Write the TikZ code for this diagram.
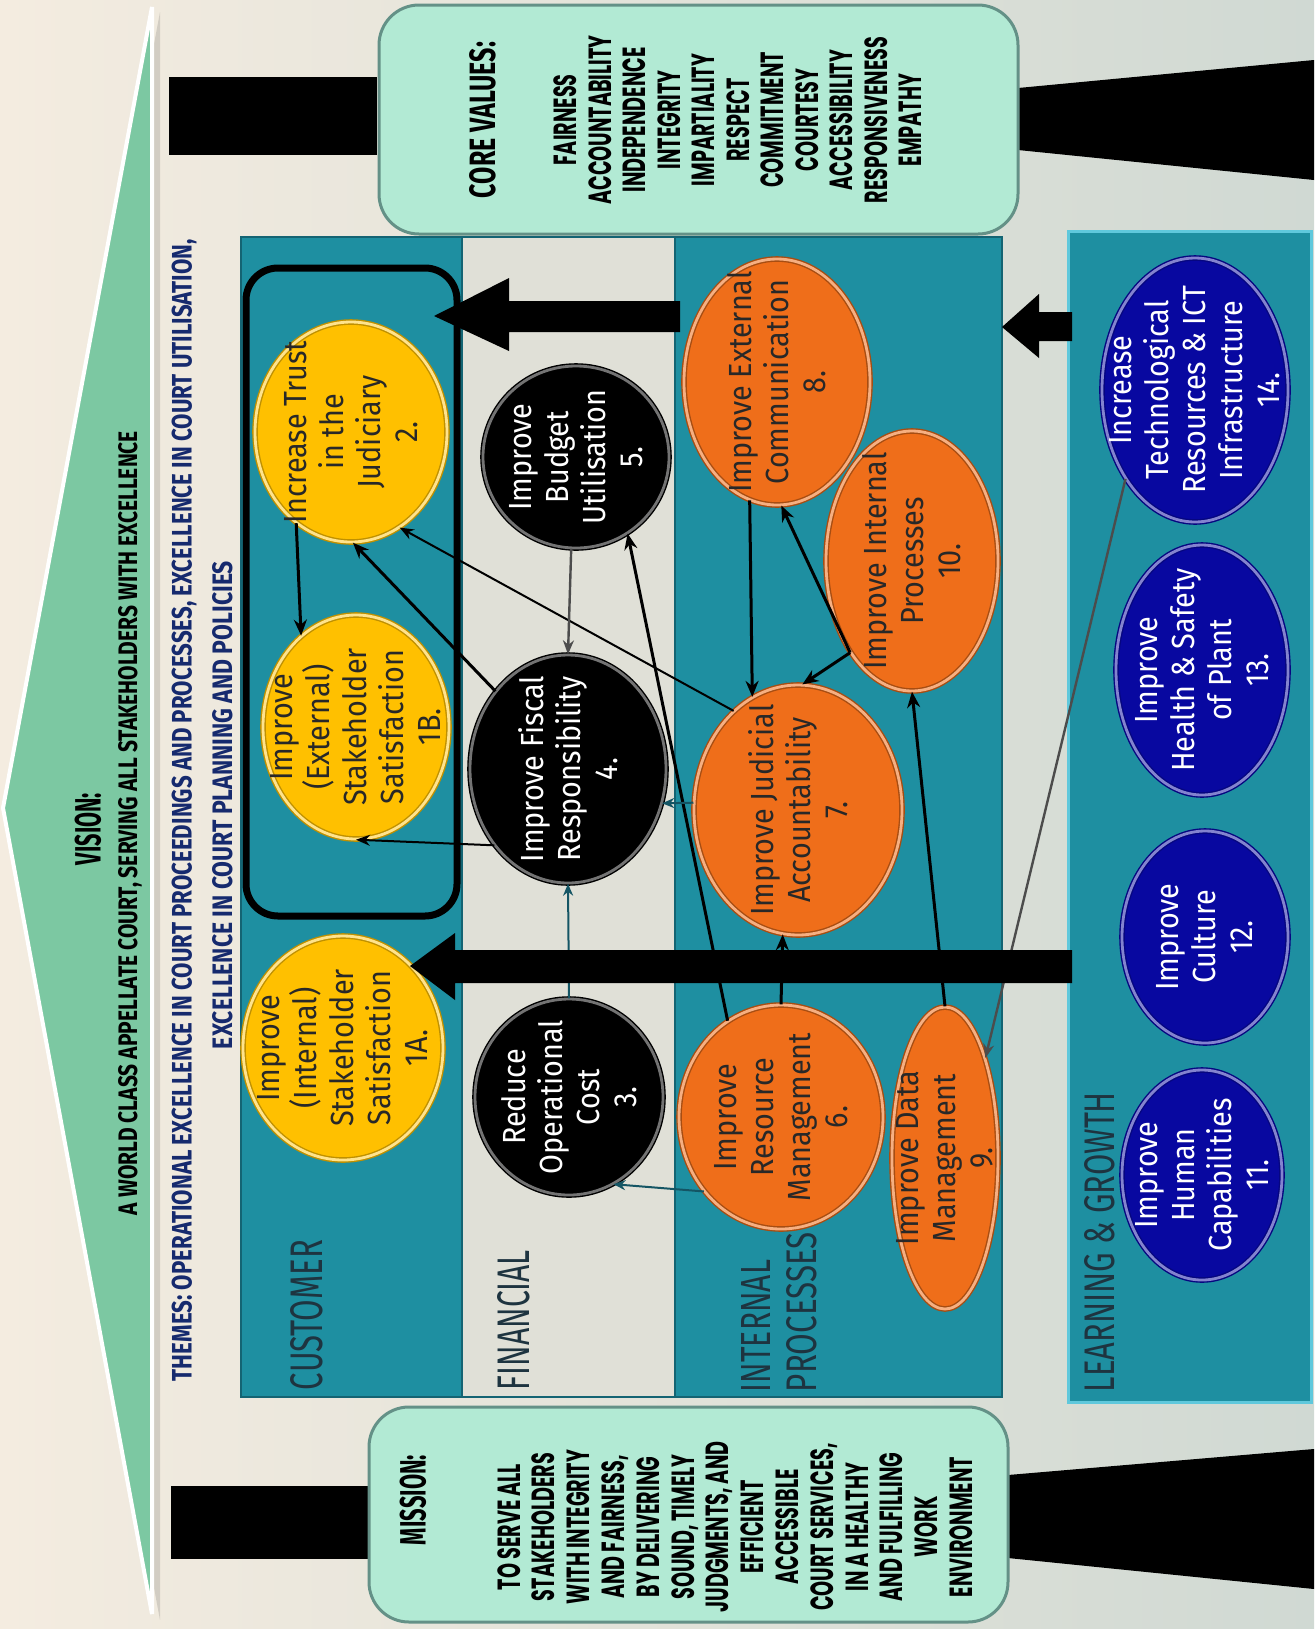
\documentclass[tikz,border=0pt]{standalone}
\usepackage{fontspec}
\setmainfont{Fira Sans}
\newfontfamily\nodefont[FakeStretch=0.9]{Fira Sans}
\newfontfamily\capfont[FakeStretch=0.6]{Poppins}
\usetikzlibrary{shapes.geometric,arrows.meta}
\definecolor{bgL}{RGB}{244,236,224}
\definecolor{bgR}{RGB}{208,217,211}
\definecolor{chev}{RGB}{124,200,162}
\definecolor{mint}{RGB}{178,234,212}
\definecolor{mintedge}{RGB}{100,145,135}
\definecolor{tealb}{RGB}{30,143,161}
\definecolor{tealedge}{RGB}{20,100,115}
\definecolor{fingray}{RGB}{224,224,215}
\definecolor{ygold}{RGB}{255,192,0}
\definecolor{orng}{RGB}{239,110,26}
\definecolor{navyb}{RGB}{8,8,160}
\definecolor{themec}{RGB}{22,42,110}
\definecolor{lblc}{RGB}{30,52,64}
\definecolor{linkteal}{RGB}{20,85,100}
\definecolor{lgedge}{RGB}{95,200,220}
\definecolor{txtdark}{RGB}{40,40,40}
\begin{document}
\begin{tikzpicture}[x=0.5pt,y=-0.5pt,
  obj/.style={ellipse, inner sep=0pt, line width=0.7pt, double distance=1.4pt},
  yobj/.style={obj, fill=ygold, draw=ygold!75!black, double=ygold!45!white},
  bobj/.style={obj, fill=black, draw=black, double=black!55},
  oobj/.style={obj, fill=orng, draw=orng!70!black, double=orng!55!white},
  nobj/.style={obj, fill=navyb, draw=navyb!80!black, double=navyb!50!white},
  otxt/.style={rotate=90, align=center, inner sep=0pt, font={\nodefont\fontsize{16}{18.5}\selectfont}},
  dtxt/.style={otxt, text=txtdark},
  wtxt/.style={otxt, text=white},
  lbl/.style={rotate=90, inner sep=0pt, text=lblc},
  hdr/.style={rotate=90, inner sep=0pt},
  lk/.style={-{Stealth[length=8pt,width=6.5pt]}, line width=1.5pt, black},
  lkthin/.style={-{Stealth[length=7pt,width=5.5pt]}, line width=1pt, black},
  lkteal/.style={-{Stealth[length=6pt,width=5pt]}, line width=1pt, linkteal},
  lkgray/.style={-{Stealth[length=7pt,width=5.5pt]}, line width=1.2pt, black!70},
  mintbox/.style={fill=mint, draw=mintedge, line width=1.5pt, rounded corners=20pt},
  band/.style={fill=tealb, draw=tealedge, line width=0.6pt},
]
\useasboundingbox (0,0) rectangle (1314,1629);
\shade[left color=bgL, right color=bgR] (0,0) rectangle (1314,1629);

% vision chevron
\fill[black, opacity=0.12] (160,12) -- (10,812) -- (160,1620) -- cycle;
\filldraw[fill=chev, draw=white, line width=2pt] (152,7) -- (3,808) -- (152,1614) -- cycle;

% black bars
\fill (169,77) rectangle (377,155);
\fill (171,1486) rectangle (371,1559);
\fill (1018,88) -- (1314,60) -- (1314,180) -- (1018,150) -- cycle;
\fill (1008,1475) -- (1314,1449) -- (1314,1589) -- (1008,1558) -- cycle;

% mint boxes
\draw[mintbox] (379,5) rectangle (1018,234);
\draw[mintbox] (369,1407) rectangle (1008,1622);

% bands
\draw[band] (241,237) rectangle (462,1397);
\draw[fill=fingray, draw=tealedge, line width=0.6pt] (462,237) rectangle (675,1397);
\draw[band] (675,237) rectangle (1002,1397);
\draw[fill=tealb, draw=lgedge, line width=1.5pt] (1068,231) rectangle (1311,1402);

% customer group outline
\draw[line width=3.5pt, rounded corners=16pt] (246,268) rectangle (457,916);

% objective nodes
\node[yobj, minimum width=96pt, minimum height=110pt] (n2) at (351,432) {};
\node[yobj, minimum width=93pt, minimum height=112pt] (n1B) at (356,727) {};
\node[yobj, minimum width=100pt, minimum height=112pt] (n1A) at (343,1048) {};
\node[bobj, minimum width=93pt, minimum height=91pt] (n5) at (576,457) {};
\node[bobj, minimum width=98pt, minimum height=114pt] (n4) at (568,769) {};
\node[bobj, minimum width=94pt, minimum height=98pt] (n3) at (569,1097) {};
\node[oobj, minimum width=93pt, minimum height=123pt] (n8) at (777,382) {};
\node[oobj, minimum width=86pt, minimum height=130pt] (n10) at (912,561) {};
\node[oobj, minimum width=104pt, minimum height=125pt] (n7) at (798,810) {};
\node[oobj, minimum width=102pt, minimum height=112pt] (n6) at (781,1117) {};
\node[oobj, minimum width=53pt, minimum height=151pt] (n9) at (945,1158) {};
\node[nobj, minimum width=93pt, minimum height=132pt] (n14) at (1195,390) {};
\node[nobj, minimum width=86pt, minimum height=125pt] (n13) at (1202,670) {};
\node[nobj, minimum width=83pt, minimum height=106pt] (n12) at (1205,937) {};
\node[nobj, minimum width=80pt, minimum height=105pt] (n11) at (1202,1175) {};

\node[dtxt] (t2) at (n2) {Increase Trust\\in the\\Judiciary\\2.};
\node[dtxt] (t1B) at (n1B) {Improve\\(External)\\Stakeholder\\Satisfaction\\1B.};
\node[dtxt] (t1A) at (n1A) {Improve\\(Internal)\\Stakeholder\\Satisfaction\\1A.};
\node[wtxt] (t5) at (n5) {Improve\\Budget\\Utilisation\\5.};
\node[wtxt] (t4) at (n4) {Improve Fiscal\\Responsibility\\4.};
\node[wtxt] (t3) at (n3) {Reduce\\Operational\\Cost\\3.};
\node[dtxt] (t8) at (n8) {Improve External\\Communication\\8.};
\node[dtxt] (t10) at (n10) {Improve Internal\\Processes\\10.};
\node[dtxt] (t7) at (n7) {Improve Judicial\\Accountability\\7.};
\node[dtxt] (t6) at (n6) {Improve\\Resource\\Management\\6.};
\node[dtxt] (t9) at (n9) {Improve Data\\Management\\9.};
\node[wtxt] (t14) at (n14) {Increase\\Technological\\Resources \& ICT\\Infrastructure\\14.};
\node[wtxt] (t13) at (n13) {Improve\\Health \& Safety\\of Plant\\13.};
\node[wtxt] (t12) at (n12) {Improve\\Culture\\12.};
\node[wtxt] (t11) at (n11) {Improve\\Human\\Capabilities\\11.};

% connectors
\draw[lk] (n2.239) -- (n1B.121);
\draw[lk] (n4.133) -- (n2.271);
\draw[lkthin] (n7.123) -- (n2.297);
\draw[lkthin] (n4.226) -- (n1B.270);
\draw[lkgray] (n5.267) -- (n4.90);
\draw[lk] (n6.119) -- (n5.304);
\draw[lkteal] (n7.176) -- (n4.340);
\draw[lkteal] (n3.north) -- (n4.south);
\draw[lk] (n6.north) -- (n7.263);
\draw[lkteal] (n6.224) -- (n3.297);
\draw[lk] (n8.257) -- (n7.112);
\draw[lk] (n10.236) -- (n8.272);
\draw[lk] (n10.236) -- (n7.88);
\draw[lk] (n9.north) -- (n10.south);
\draw[lkgray] (n14.232) -- (n9.68);

% big block arrows
\fill (434,316) -- (509,278) -- (509,301) -- (680,301) -- (680,332) -- (509,332) -- (509,351) -- cycle;
\fill (410,966) -- (455,933) -- (455,950) -- (1072,950) -- (1072,983) -- (455,983) -- (455,1000) -- cycle;
\fill (1002,327) -- (1039,294) -- (1039,312) -- (1072,312) -- (1072,341) -- (1039,341) -- (1039,358) -- cycle;

% vision and themes
\node[hdr] (vis) at (88,829) {\resizebox{36pt}{13pt}{\bfseries VISION:}};
\node[hdr] (vistext) at (130,823) {\resizebox{392pt}{9.5pt}{\bfseries A WORLD CLASS APPELLATE COURT, SERVING ALL STAKEHOLDERS WITH EXCELLENCE}};
\node[hdr, text=themec] (th1) at (184,810) {\resizebox{571pt}{10pt}{\bfseries THEMES: OPERATIONAL EXCELLENCE IN COURT PROCEEDINGS AND PROCESSES, EXCELLENCE IN COURT UTILISATION,}};
\node[hdr, text=themec] (th2) at (223,805) {\resizebox{244pt}{10pt}{\bfseries EXCELLENCE IN COURT PLANNING AND POLICIES}};

% core values
\node[hdr] (cvh) at (483,120) {\resizebox{78pt}{13pt}{\bfseries CORE VALUES:}};
\node[hdr, align=center, font={\capfont\bfseries\fontsize{16}{17.25}\selectfont}] (cvl) at (738,120)
  {FAIRNESS\\ACCOUNTABILITY\\INDEPENDENCE\\INTEGRITY\\IMPARTIALITY\\RESPECT\\COMMITMENT\\COURTESY\\ACCESSIBILITY\\RESPONSIVENESS\\EMPATHY};

% mission
\node[hdr] (msh) at (413,1500) {\resizebox{45pt}{13pt}{\bfseries MISSION:}};
\node[hdr, align=center, font={\capfont\bfseries\fontsize{16}{17.4}\selectfont}] (msl) at (735,1527)
  {TO SERVE ALL\\STAKEHOLDERS\\WITH INTEGRITY\\AND FAIRNESS,\\BY DELIVERING\\SOUND, TIMELY\\JUDGMENTS, AND\\EFFICIENT\\ACCESSIBLE\\COURT SERVICES,\\IN A HEALTHY\\AND FULFILLING\\WORK\\ENVIRONMENT};

% band labels
\node[lbl] (lcust) at (307,1315) {\resizebox{75pt}{16pt}{CUSTOMER}};
\node[lbl] (lfin) at (514,1320) {\resizebox{70pt}{16pt}{FINANCIAL}};
\node[lbl] (lint1) at (756,1326) {\resizebox{66pt}{14.5pt}{INTERNAL}};
\node[lbl] (lint2) at (802,1312) {\resizebox{80pt}{15pt}{PROCESSES}};
\node[lbl] (llg) at (1100,1242) {\resizebox{150pt}{15pt}{LEARNING \& GROWTH}};
\end{tikzpicture}
\end{document}
